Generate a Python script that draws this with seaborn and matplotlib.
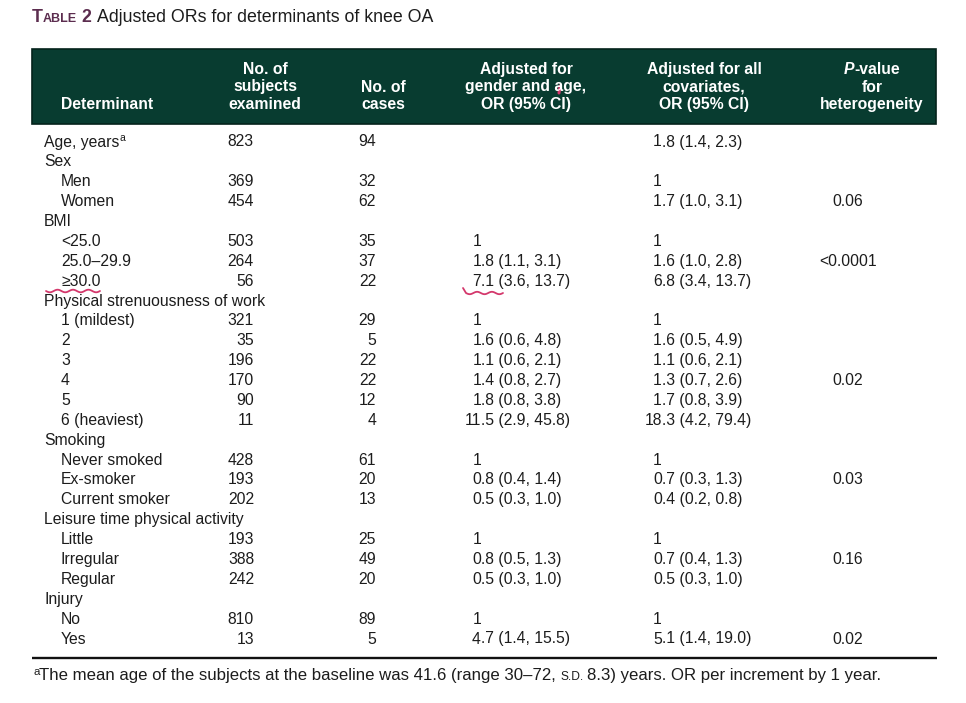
import numpy as np
import pandas as pd
import seaborn as sns
import matplotlib.pyplot as plt
from matplotlib.patches import Rectangle

# Table 2 values
labels = ['Age, years', 'Sex', 'Men', 'Women', 'BMI', '<25.0', '25.0–29.9', '≥30.0',
          'Physical strenuousness of work', '1 (mildest)', '2', '3', '4', '5', '6 (heaviest)',
          'Smoking', 'Never smoked', 'Ex-smoker', 'Current smoker',
          'Leisure time physical activity', 'Little', 'Irregular', 'Regular',
          'Injury', 'No', 'Yes']
level = [0, 0, 1, 1, 0, 1, 1, 1, 0, 1, 1, 1, 1, 1, 1, 0, 1, 1, 1, 0, 1, 1, 1, 0, 1, 1]
subjects = ['823', '', '369', '454', '', '503', '264', '56', '', '321', '35', '196', '170',
            '90', '11', '', '428', '193', '202', '', '193', '388', '242', '', '810', '13']
cases = ['94', '', '32', '62', '', '35', '37', '22', '', '29', '5', '22', '22', '12', '4',
         '', '61', '20', '13', '', '25', '49', '20', '', '89', '5']
or_age = ['', '', '', '', '', '1', '1.8 (1.1, 3.1)', '7.1 (3.6, 13.7)', '', '1',
          '1.6 (0.6, 4.8)', '1.1 (0.6, 2.1)', '1.4 (0.8, 2.7)', '1.8 (0.8, 3.8)',
          '11.5 (2.9, 45.8)', '', '1', '0.8 (0.4, 1.4)', '0.5 (0.3, 1.0)', '', '1',
          '0.8 (0.5, 1.3)', '0.5 (0.3, 1.0)', '', '1', '4.7 (1.4, 15.5)']
or_all = ['1.8 (1.4, 2.3)', '', '1', '1.7 (1.0, 3.1)', '', '1', '1.6 (1.0, 2.8)',
          '6.8 (3.4, 13.7)', '', '1', '1.6 (0.5, 4.9)', '1.1 (0.6, 2.1)', '1.3 (0.7, 2.6)',
          '1.7 (0.8, 3.9)', '18.3 (4.2, 79.4)', '', '1', '0.7 (0.3, 1.3)', '0.4 (0.2, 0.8)',
          '', '1', '0.7 (0.4, 1.3)', '0.5 (0.3, 1.0)', '', '1', '5.1 (1.4, 19.0)']
p_het = ['', '', '', '0.06', '', '', '<0.0001', '', '', '', '', '', '0.02', '', '', '',
         '', '0.03', '', '', '', '0.16', '', '', '', '0.02']

df = pd.DataFrame({'label': labels, 'level': level, 'subjects': subjects, 'cases': cases,
                   'or_age': or_age, 'or_all': or_all, 'p': p_het})

sns.set_theme(style='white')
plt.rcParams['font.family'] = ['Liberation Sans', 'DejaVu Sans']

INK = '#1c1c1c'
GREEN = '#083c30'
PINK = '#d4386c'
FS = 11.3

fig = plt.figure(figsize=(9.66, 7.03), dpi=100)
ax = fig.add_axes([0, 0, 1, 1])
ax.set_xlim(0, 966)
ax.set_ylim(703, 0)
ax.axis('off')
renderer = fig.canvas.get_renderer()


def runs(x, y, parts, ha='left'):
    # draw text pieces one after another on a shared baseline
    items = []
    cx = x
    for s, kw in parts:
        dy = kw.pop('dy', 0)
        gap = kw.pop('gap', 0)
        cx += gap
        t = ax.text(cx, y - dy, s, va='baseline', ha='left', **kw)
        cx += t.get_window_extent(renderer).width
        items.append(t)
    total = cx - x
    if ha == 'center':
        for t in items:
            px, py = t.get_position()
            t.set_position((px - total / 2, py))
    return total


# title
tc = '#5c2d4f'
runs(32, 21.5, [('T', dict(fontsize=12.8, fontweight='bold', color=tc)),
                ('ABLE', dict(fontsize=9.0, fontweight='bold', color=tc)),
                ('2', dict(fontsize=12.8, fontweight='bold', color=tc, gap=4)),
                ('Adjusted ORs for determinants of knee OA',
                 dict(fontsize=12.8, color=INK, gap=6))])

# header band
ax.add_patch(Rectangle((32, 49), 904, 75, facecolor=GREEN, edgecolor='#04231b', lw=1.2))
hb = [74, 91.5, 109]
hkw = dict(fontsize=FS, fontweight='bold', color='white')
ax.text(61, hb[2], 'Determinant', va='baseline', ha='left', **hkw)
headers = [(265, ['No. of', 'subjects', 'examined']),
           (383, ['No. of', 'cases']),
           (526, ['Adjusted for', 'gender and age,', 'OR (95% CI)']),
           (704, ['Adjusted for all', 'covariates,', 'OR (95% CI)'])]
for cx, lines in headers:
    for ln, yb in zip(lines, hb[-len(lines):]):
        ax.text(cx, yb, ln, va='baseline', ha='center', **hkw)
runs(872, hb[0], [('P', dict(hkw, fontstyle='italic')), ('-value', dict(hkw))], ha='center')
ax.text(872, hb[1], 'for', va='baseline', ha='center', **hkw)
ax.text(872, hb[2], 'heterogeneity', va='baseline', ha='center', **hkw)


def or_text(x, y, s):
    # align on the integer part of the point estimate
    if not s:
        return
    head = s.split('.')[0] if '.' in s.split(' ')[0] else s
    rest = s[len(head):]
    ax.text(x, y, head, va='baseline', ha='right', fontsize=FS, color=INK)
    if rest:
        ax.text(x, y, rest, va='baseline', ha='left', fontsize=FS, color=INK)


base0, step = 146.5, 19.88
for i, row in df.iterrows():
    yb = base0 + i * step
    lx = 44 + 17 * row['level']
    if row['label'] == 'Age, years':
        runs(lx, yb, [(row['label'], dict(fontsize=FS, color=INK)),
                      ('a', dict(fontsize=7.5, color=INK, dy=5.5, gap=0.5))])
    else:
        ax.text(lx, yb, row['label'], va='baseline', ha='left', fontsize=FS, color=INK)
    ax.text(254, yb, row['subjects'], va='baseline', ha='right', fontsize=FS, color=INK)
    ax.text(376, yb, row['cases'], va='baseline', ha='right', fontsize=FS, color=INK)
    or_text(481, yb, row['or_age'])
    or_text(662, yb, row['or_all'])
    ax.text(848, yb, row['p'], va='baseline', ha='center', fontsize=FS, color=INK)

# bottom rule
ax.plot([32, 937], [657.5, 657.5], color='#111111', lw=1.7, solid_capstyle='butt')

# footnote, sized to its printed width
def footnote(fs):
    return [('a', dict(fontsize=fs * 0.68, color=INK, dy=5)),
            ('The mean age of the subjects at the baseline was 41.6 (range 30–72,',
             dict(fontsize=fs, color=INK)),
            ('S.D.', dict(fontsize=fs * 0.72, color=INK, gap=4)),
            ('8.3) years. OR per increment by 1 year.', dict(fontsize=fs, color=INK, gap=4))]

probe = runs(-2000, 680, footnote(10.0))
for t in ax.texts[-4:]:
    t.remove()
fs_foot = 10.0 * 849 / probe
runs(33, 680, footnote(fs_foot))

# handwritten pen marks on the scan
x1 = np.linspace(46, 100, 80)
ax.plot(x1, 291 + 1.3 * np.sin((x1 - 46) / 54 * 2 * np.pi * 3.5), color=PINK, lw=1.3)
x2 = np.linspace(466, 503, 60)
ax.plot(np.r_[463, x2], np.r_[288, 293 + 1.2 * np.sin((x2 - 466) / 37 * 2 * np.pi * 2.5)],
        color=PINK, lw=1.3)
ax.plot([560, 559], [86, 93], color=PINK, lw=2.2, solid_capstyle='round')

fig.savefig('out.png', dpi=100)
